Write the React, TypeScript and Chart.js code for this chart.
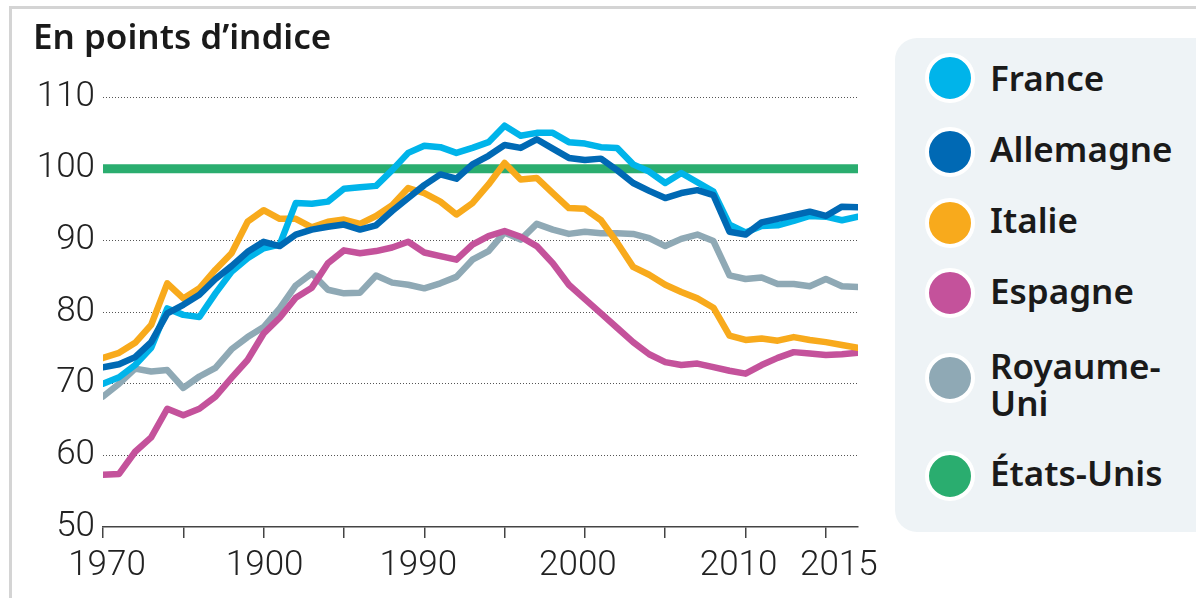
import React, { useEffect, useRef } from "react";
import { Chart, registerables } from "chart.js";
Chart.register(...registerables);

const years = [
  1970, 1971, 1972, 1973, 1974, 1975, 1976, 1977, 1978, 1979,
  1980, 1981, 1982, 1983, 1984, 1985, 1986, 1987, 1988, 1989,
  1990, 1991, 1992, 1993, 1994, 1995, 1996, 1997, 1998, 1999,
  2000, 2001, 2002, 2003, 2004, 2005, 2006, 2007, 2008, 2009,
  2010, 2011, 2012, 2013, 2014, 2015, 2016, 2017,
];

const france = [
  70.0, 70.9, 72.6, 75.0, 80.5, 79.6, 79.3, 82.6, 85.6, 87.5,
  88.9, 89.4, 95.2, 95.1, 95.4, 97.2, 97.4, 97.6, 99.8, 102.2,
  103.2, 103.0, 102.2, 102.9, 103.7, 106.0, 104.6, 105.0, 105.0, 103.7,
  103.5, 103.0, 102.9, 100.6, 99.6, 98.0, 99.4, 98.1, 96.8, 92.2,
  91.1, 92.0, 92.1, 92.7, 93.4, 93.3, 92.8, 93.3,
];

const allemagne = [
  72.3, 72.7, 73.7, 75.8, 79.8, 81.0, 82.4, 84.6, 86.4, 88.4,
  89.8, 89.2, 90.8, 91.5, 91.9, 92.2, 91.5, 92.1, 94.1, 95.9,
  97.7, 99.2, 98.6, 100.6, 101.8, 103.3, 102.9, 104.1, 102.8, 101.5,
  101.2, 101.4, 99.8, 98.0, 96.9, 95.9, 96.6, 97.0, 96.3, 91.2,
  90.8, 92.5, 93.0, 93.5, 94.0, 93.4, 94.7, 94.6,
];

const italie = [
  73.6, 74.3, 75.7, 78.2, 84.0, 81.9, 83.3, 85.9, 88.2, 92.6,
  94.2, 93.0, 93.0, 91.8, 92.6, 92.9, 92.3, 93.4, 94.9, 97.3,
  96.6, 95.4, 93.6, 95.2, 97.8, 100.8, 98.5, 98.7, 96.6, 94.5,
  94.4, 92.8, 89.7, 86.3, 85.2, 83.8, 82.8, 81.9, 80.6, 76.7,
  76.1, 76.3, 76.0, 76.5, 76.1, 75.8, 75.4, 75.0,
];

const espagne = [
  57.3, 57.4, 60.5, 62.5, 66.5, 65.6, 66.5, 68.2, 70.8, 73.3,
  77.0, 79.2, 82.0, 83.4, 86.8, 88.6, 88.2, 88.5, 89.0, 89.8,
  88.3, 87.8, 87.3, 89.4, 90.6, 91.3, 90.5, 89.2, 86.8, 83.8,
  81.8, 79.8, 77.8, 75.8, 74.1, 73.0, 72.6, 72.8, 72.3, 71.8,
  71.4, 72.6, 73.6, 74.4, 74.2, 74.0, 74.1, 74.3,
];

const royaumeUni = [
  68.2, 70.0, 72.1, 71.7, 71.9, 69.4, 71.0, 72.2, 74.8, 76.5,
  77.9, 80.5, 83.7, 85.4, 83.1, 82.6, 82.7, 85.1, 84.1, 83.8,
  83.3, 84.0, 84.9, 87.3, 88.5, 91.1, 90.1, 92.3, 91.5, 90.9,
  91.2, 91.0, 91.0, 90.9, 90.3, 89.2, 90.2, 90.8, 89.9, 85.1,
  84.6, 84.8, 83.9, 83.9, 83.6, 84.6, 83.6, 83.5,
];

const etatsUnis = [
  100, 100, 100, 100, 100, 100, 100, 100, 100, 100,
  100, 100, 100, 100, 100, 100, 100, 100, 100, 100,
  100, 100, 100, 100, 100, 100, 100, 100, 100, 100,
  100, 100, 100, 100, 100, 100, 100, 100, 100, 100,
  100, 100, 100, 100, 100, 100, 100, 100,
];

const tickYears = [1970, 1975, 1980, 1985, 1990, 1995, 2000, 2005, 2010, 2015];
const tickLabels = ["1970", "", "1900", "", "1990", "", "2000", "", "2010", "2015"];
const yTicks = [50, 60, 70, 80, 90, 100, 110];

const seriesNames = ["France", "Allemagne", "Italie", "Espagne", "Royaume-Uni", "États-Unis"];
const seriesColors = ["#00b4ea", "#0069b4", "#f8aa1c", "#c4529b", "#8fa9b5", "#2aad6f"];
const seriesValues = [france, allemagne, italie, espagne, royaumeUni, etatsUnis];

const labelShift = [4, 0, 1, 0, -6, 0, -7, 0, -7, 13];

const legendRows = [
  { lines: ["France"], top: 60, circle: 78 },
  { lines: ["Allemagne"], top: 131, circle: 152 },
  { lines: ["Italie"], top: 202, circle: 223 },
  { lines: ["Espagne"], top: 273, circle: 293 },
  { lines: ["Royaume-", "Uni"], top: 348, circle: 378 },
  { lines: ["États-Unis"], top: 455, circle: 476 },
];

const xLabelPlugin = {
  id: "xLabels",
  afterDraw(chart: any) {
    const ctx = chart.ctx;
    const xs = chart.scales.x;
    ctx.save();
    ctx.font = "300 35px Roboto";
    ctx.fillStyle = "#222";
    ctx.textAlign = "center";
    ctx.textBaseline = "alphabetic";
    tickYears.forEach((yr, i) => {
      if (tickLabels[i]) ctx.fillText(tickLabels[i], xs.getPixelForValue(yr) + labelShift[i], xs.top + 48);
    });
    ctx.restore();
  },
};

export default function App() {
  const ref = useRef<HTMLCanvasElement | null>(null);

  useEffect(() => {
    if (!ref.current) return;
    const tickFont = { family: "Roboto", size: 35, weight: 300 as any };
    const datasets = seriesNames.map((name, i) => ({
      label: name,
      data: years.map((y, j) => ({ x: y, y: seriesValues[i][j] })),
      borderColor: seriesColors[i],
      backgroundColor: seriesColors[i],
      borderWidth: i === 5 ? 9 : 6.5,
      pointRadius: 0,
      tension: 0,
      borderCapStyle: "round" as const,
      borderJoinStyle: "round" as const,
      fill: false,
      order: [1, 0, 2, 3, 4, 5][i],
    }));
    const chart = new Chart(ref.current, {
      type: "line",
      data: { datasets },
      plugins: [xLabelPlugin],
      options: {
        responsive: false,
        maintainAspectRatio: false,
        animation: false,
        layout: { padding: { left: 0, top: 97, right: 338, bottom: 0 } },
        plugins: { legend: { display: false }, tooltip: { enabled: false }, title: { display: false } },
        scales: {
          x: {
            type: "linear",
            min: 1970,
            max: 2017,
            afterBuildTicks: (s: any) => {
              s.ticks = tickYears.map((v) => ({ value: v }));
            },
            afterFit: (s: any) => {
              s.height = 71;
            },
            ticks: { display: false },
            grid: { drawOnChartArea: false, drawTicks: true, tickLength: 11, color: "#444", lineWidth: 1.5 },
            border: { display: true, color: "#444", width: 1.5 },
          },
          y: {
            type: "linear",
            min: 50,
            max: 110,
            afterBuildTicks: (s: any) => {
              s.ticks = yTicks.map((v) => ({ value: v }));
            },
            afterFit: (s: any) => {
              s.width = 103;
            },
            ticks: { padding: 8, color: "#222", font: tickFont },
            grid: {
              drawTicks: false,
              lineWidth: 1,
              color: (ctx: any) => (ctx.tick && ctx.tick.value === 50 ? "rgba(0,0,0,0)" : "#555"),
            },
            border: { display: false, dash: [1, 2] },
          },
        },
      },
    } as any);
    return () => chart.destroy();
  }, []);

  return (
    <div style={{ position: "absolute", left: 0, top: 0, width: 1196, height: 598, overflow: "hidden", background: "#fff" }}>
      <div style={{ position: "absolute", left: 9, top: 6, width: 1300, height: 700, borderTop: "3px solid #d4d4d4", borderLeft: "3px solid #d4d4d4" }} />
      <canvas ref={ref} width={1196} height={598} style={{ position: "absolute", left: 0, top: 0, width: 1196, height: 598 }} />
      <div
        style={{
          position: "absolute",
          left: 33,
          top: 18,
          fontFamily: "'Noto Sans', sans-serif",
          fontWeight: 600,
          fontSize: 35,
          lineHeight: "35px",
          color: "#1a1a1a",
          whiteSpace: "nowrap",
        }}
      >
        En points d’indice
      </div>
      <div style={{ position: "absolute", left: 895, top: 38, width: 330, height: 494, background: "#eef3f6", borderRadius: 22 }} />
      {legendRows.map((r, i) => (
        <React.Fragment key={i}>
          <div
            style={{
              position: "absolute",
              left: 950 - 25,
              top: r.circle - 25,
              width: 50,
              height: 50,
              boxSizing: "border-box",
              borderRadius: "50%",
              border: "4px solid #fff",
              background: seriesColors[i],
            }}
          />
          <div
            style={{
              position: "absolute",
              left: 990,
              top: r.top - 1,
              fontFamily: "'Noto Sans', sans-serif",
              fontWeight: 600,
              fontSize: 35,
              lineHeight: "37px",
              color: "#1a1a1a",
              whiteSpace: "nowrap",
            }}
          >
            {r.lines.map((l, k) => (
              <div key={k}>{l}</div>
            ))}
          </div>
        </React.Fragment>
      ))}
    </div>
  );
}
